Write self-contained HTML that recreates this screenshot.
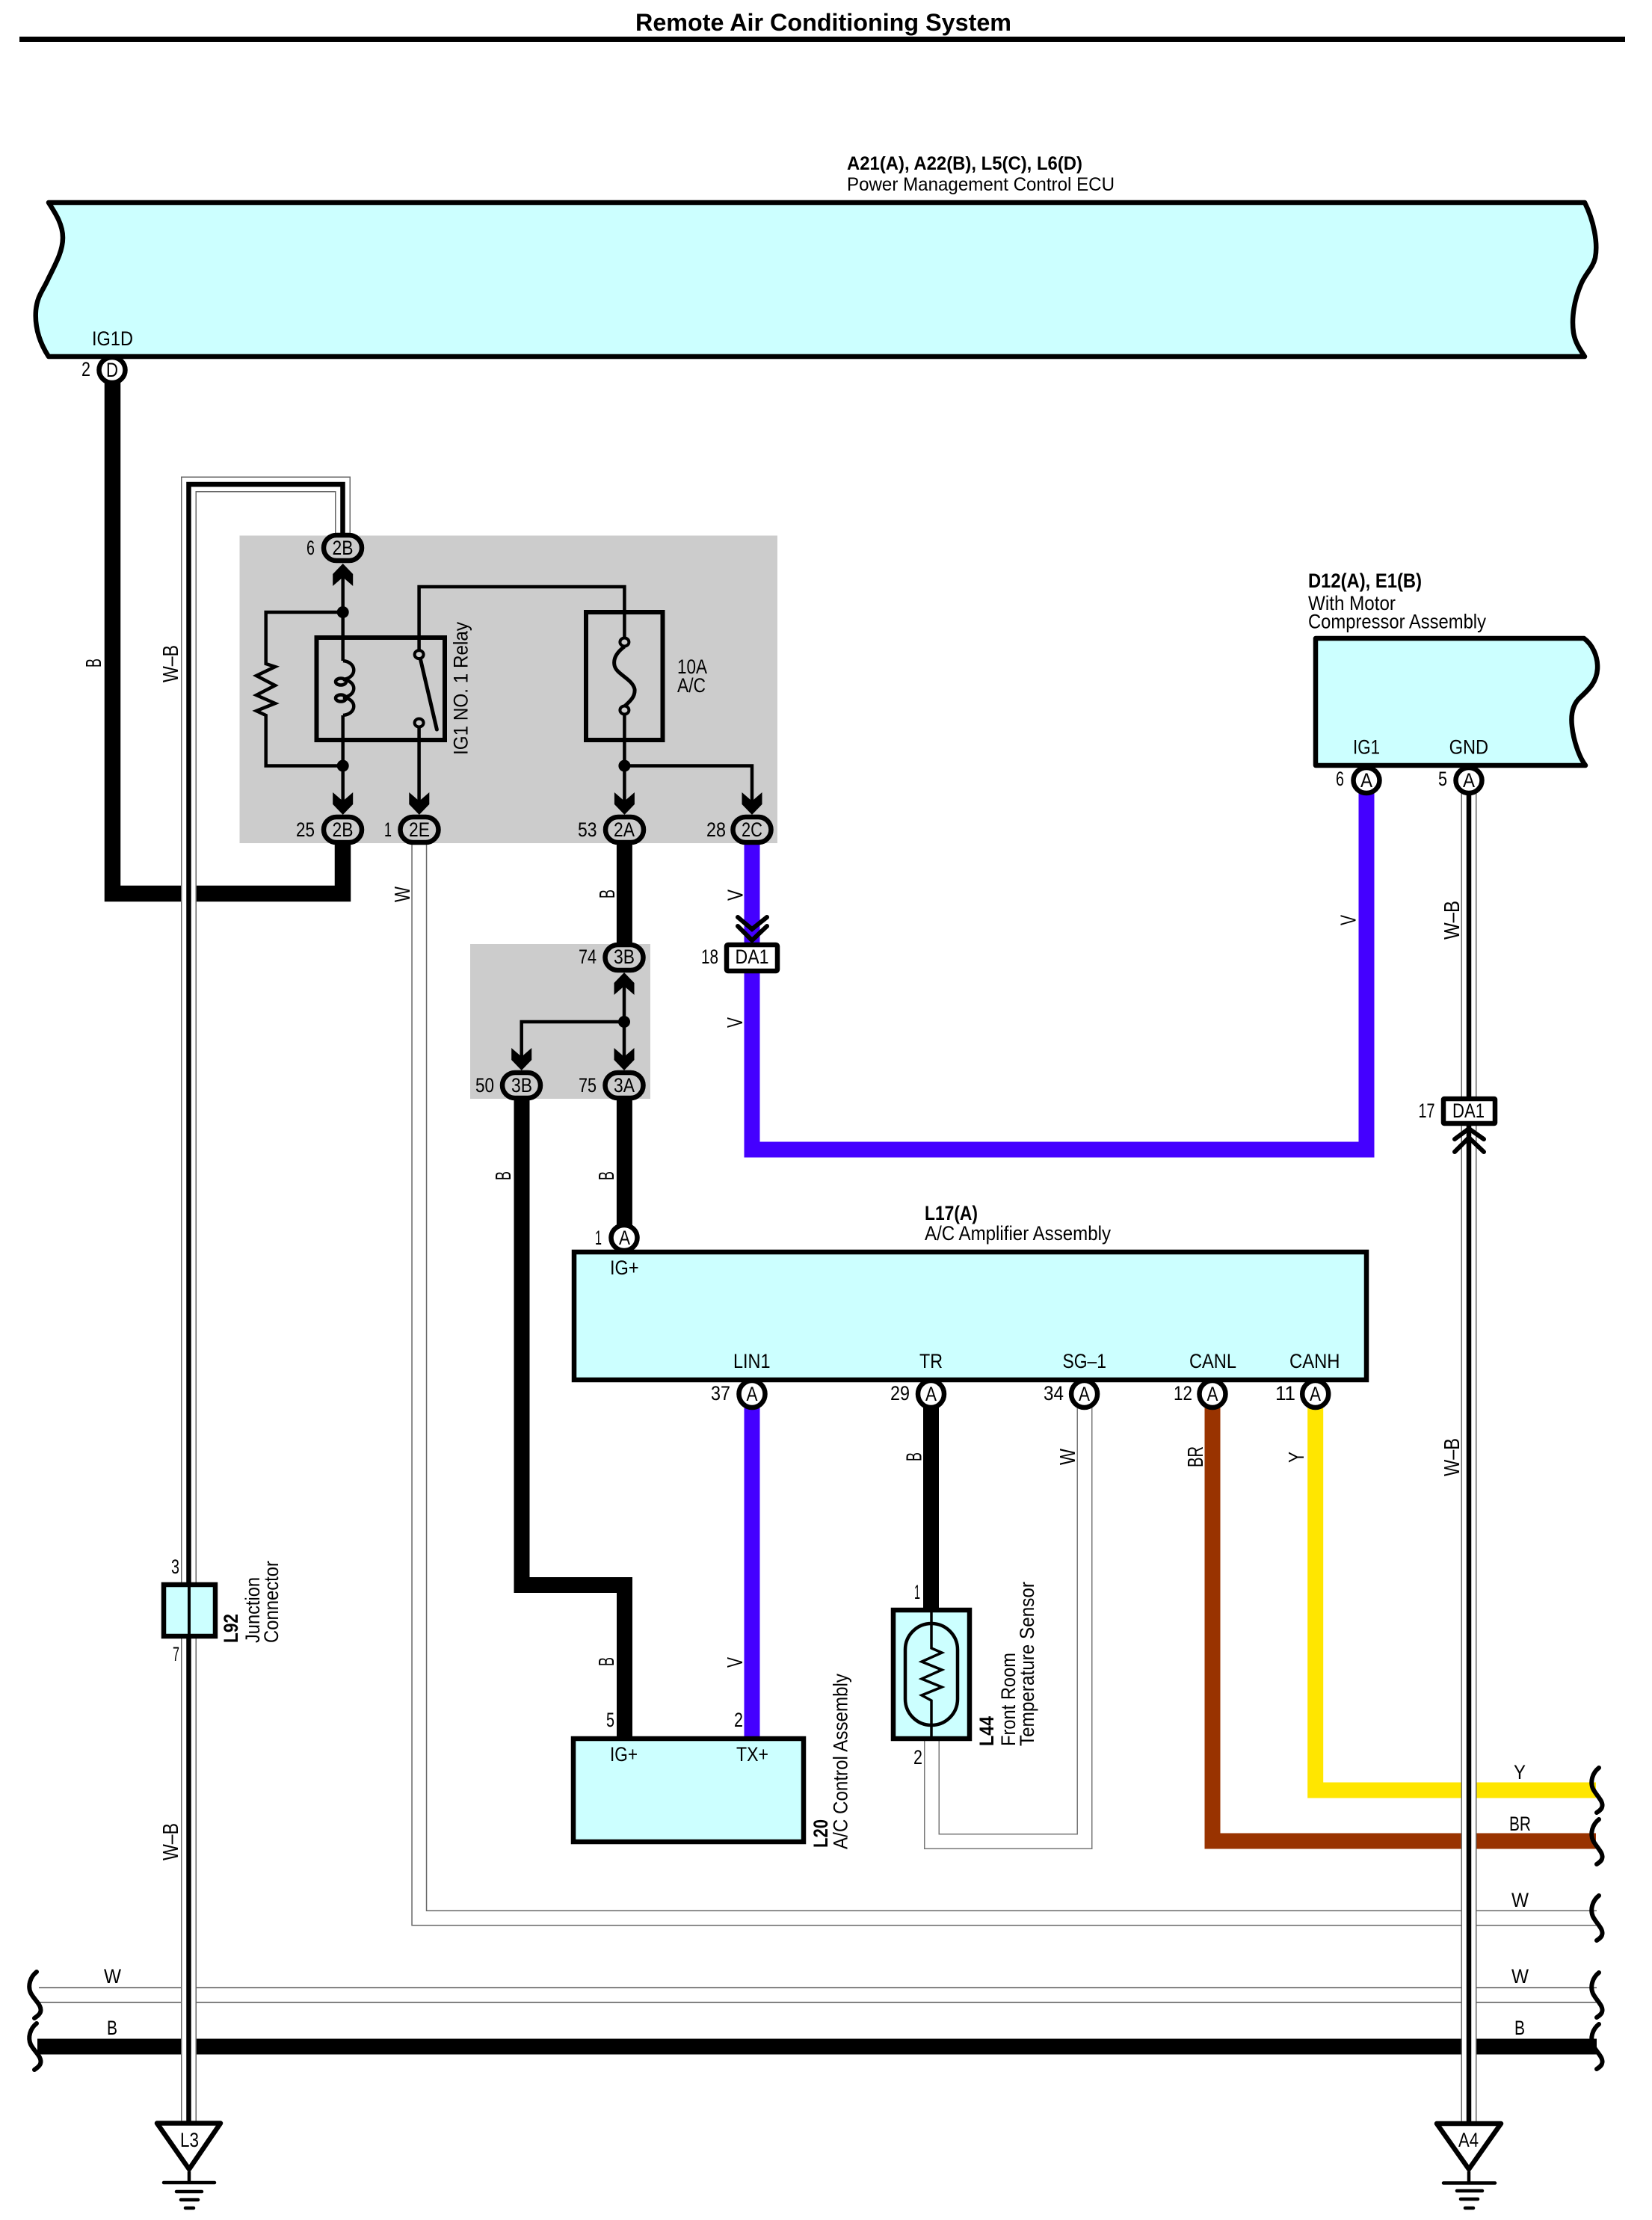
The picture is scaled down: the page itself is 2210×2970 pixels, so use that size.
<!DOCTYPE html>
<html><head><meta charset="utf-8"><style>
html,body{margin:0;padding:0;background:#fff}
svg{display:block}
text{font-family:"Liberation Sans",sans-serif;font-size:27px;fill:#000}
.b{font-weight:bold}
text.w{font-size:29px}
</style></head><body>
<svg width="2210" height="2970" viewBox="0 0 2210 2970" xmlns="http://www.w3.org/2000/svg">
<rect width="2210" height="2970" fill="#fff"/>
<text class="b" x="850" y="41" style="font-size:32px" textLength="503" lengthAdjust="spacingAndGlyphs">Remote Air Conditioning System</text>
<rect x="26" y="49" width="2148" height="7" fill="#000"/>

<text class="b" x="1133" y="227" style="font-size:25px" textLength="315" lengthAdjust="spacingAndGlyphs">A21(A), A22(B), L5(C), L6(D)</text>
<text x="1133" y="255" style="font-size:25px" textLength="358" lengthAdjust="spacingAndGlyphs">Power Management Control ECU</text>
<path d="M65 271 H2120 C2132 295 2138 325 2134 345 C2131 358 2122 365 2116 378 C2106 400 2102 425 2105 445 C2107 458 2114 468 2120 477 H65 C54 460 46 440 48 415 C50 395 58 388 65 372 C76 350 84 335 84 318 C84 300 74 285 65 271 Z" fill="#ccffff" stroke="#000" stroke-width="6.5" stroke-linejoin="round"/>
<text x="123" y="462" textLength="55" lengthAdjust="spacingAndGlyphs">IG1D</text>

<!-- gray boxes -->
<rect x="320.5" y="716.5" width="719.5" height="411.5" fill="#ccc"/>
<rect x="629" y="1263" width="241" height="207" fill="#ccc"/>

<!-- thick wires -->
<g fill="none" stroke-linejoin="miter">
<path d="M150.5 510 V1195.5 H458.5 V1125" stroke="#000" stroke-width="21.5"/>
<path d="M835.4 1125 V1270" stroke="#000" stroke-width="21"/>
<path d="M835.4 1465 V1640" stroke="#000" stroke-width="21"/>
<path d="M698 1465 V2120.5 H835.5 V2326" stroke="#000" stroke-width="21"/>
<path d="M1006 1125 V1265 M1006 1298 V1538 H1828 V1060" stroke="#4400ff" stroke-width="21"/>
<path d="M1006 1880 V2326" stroke="#4400ff" stroke-width="21"/>
<path d="M1245.5 1880 V2156" stroke="#000" stroke-width="21"/>
<path d="M1622 1880 V2463 H2135" stroke="#993300" stroke-width="21"/>
<path d="M1759.7 1880 V2395 H2135" stroke="#ffe600" stroke-width="21"/>
<!-- W wires -->
<path d="M560.8 1128 V2566 H2136" stroke="#666" stroke-width="21"/>
<path d="M560.8 1128 V2566 H2136" stroke="#fff" stroke-width="18"/>
<path d="M1246.5 2326 V2463.5 H1451 V1880" stroke="#777" stroke-width="21"/>
<path d="M1246.5 2326 V2463.5 H1451 V1880" stroke="#fff" stroke-width="18"/>
<path d="M52 2669 H2136" stroke="#555" stroke-width="21"/>
<path d="M52 2669 H2136" stroke="#fff" stroke-width="18"/>
<path d="M50 2738 H2136" stroke="#000" stroke-width="21"/>
<!-- W-B wires -->
<path d="M458.5 716 V648 H252.5 V2842" stroke="#666" stroke-width="21"/>
<path d="M458.5 716 V648 H252.5 V2842" stroke="#fff" stroke-width="18"/>
<path d="M458.5 716 V648 H252.5 V2842" stroke="#000" stroke-width="6.5"/>
<path d="M1965 1060 V2842" stroke="#666" stroke-width="21"/>
<path d="M1965 1060 V2842" stroke="#fff" stroke-width="18"/>
<path d="M1965 1060 V2842" stroke="#000" stroke-width="6.5"/>
</g>

<!-- relay thin wires -->
<g fill="none" stroke="#000" stroke-width="4.5">
<path d="M458.7 770 V884 M458.7 957 V1075"/>
<path d="M458.7 819 H355.7 V888 L368 892 L343 904 L368 917 L343 930 L368 941 L343 951 L355.7 957 V1024.5 H458.7"/>
<path d="M459 884 C478 886 478 907 459 909 C478 911 478 931 459 933 C478 935 478 955 459 957"/>
<ellipse cx="456" cy="912" rx="7" ry="4.5"/>
<ellipse cx="456" cy="934" rx="7" ry="4.5"/>
<path d="M560.6 869 V785 H835.4 V853"/>
<path d="M560.6 973 V1075"/>
<path d="M835.4 956 V1075 M835.4 1024.5 H1006 V1075"/>
<path d="M835 1320 V1425 M835 1367 H697.7 V1425"/>
</g>
<rect x="423.5" y="853" width="171.5" height="137" fill="none" stroke="#000" stroke-width="6"/>
<rect x="784" y="819" width="102.5" height="171" fill="none" stroke="#000" stroke-width="6"/>
<path d="M562 880 L584.4 976" stroke="#000" stroke-width="5" stroke-linecap="round" fill="none"/>
<path d="M835.4 865 C826 872 820 880 822 890 C824 902 846 908 849 922 C850 932 843 938 835.4 945" fill="none" stroke="#000" stroke-width="5"/>
<g fill="#ccc" stroke="#000" stroke-width="4">
<ellipse cx="560.6" cy="875.6" rx="6" ry="5.5"/>
<ellipse cx="560.6" cy="967" rx="6" ry="5.5"/>
<ellipse cx="835.4" cy="859" rx="6" ry="5.5"/>
<ellipse cx="835.4" cy="950" rx="6" ry="5.5"/>
</g>
<g fill="#000">
<ellipse cx="458.7" cy="819" rx="8" ry="8"/>
<ellipse cx="458.7" cy="1024.5" rx="8" ry="8"/>
<ellipse cx="835.4" cy="1024.5" rx="8" ry="8"/>
<circle cx="835" cy="1367" r="8"/>
<!-- arrows down -->
<path transform="translate(458.7 1060)" d="M0 30 L13.5 16 V0 L2 10 H-2 L-13.5 0 V16 Z"/>
<path transform="translate(560.8 1060)" d="M0 30 L13.5 16 V0 L2 10 H-2 L-13.5 0 V16 Z"/>
<path transform="translate(835.4 1060)" d="M0 30 L13.5 16 V0 L2 10 H-2 L-13.5 0 V16 Z"/>
<path transform="translate(1006 1060)" d="M0 30 L13.5 16 V0 L2 10 H-2 L-13.5 0 V16 Z"/>
<path transform="translate(697.7 1402)" d="M0 30 L13.5 16 V0 L2 10 H-2 L-13.5 0 V16 Z"/>
<path transform="translate(835 1402)" d="M0 30 L13.5 16 V0 L2 10 H-2 L-13.5 0 V16 Z"/>
<!-- arrows up -->
<path transform="translate(458.7 784) scale(1 -1)" d="M0 30 L13.5 16 V0 L2 10 H-2 L-13.5 0 V16 Z"/>
<path transform="translate(835 1331) scale(1 -1)" d="M0 30 L13.5 16 V0 L2 10 H-2 L-13.5 0 V16 Z"/>
</g>
<!-- chevrons -->
<g fill="none" stroke="#000" stroke-width="6" stroke-linecap="round">
<path d="M987 1227 L1006 1243 L1026 1227 M987 1239 L1006 1258 L1026 1239"/>
<path d="M1946 1524 L1965 1510 L1985 1524 M1946 1541 L1965 1522 L1985 1541"/>
</g>

<!-- stadium connectors -->
<g fill="#ccc" stroke="#000" stroke-width="6.5">
<rect x="433" y="716" width="51" height="34" rx="17"/>
<rect x="433" y="1093" width="51" height="34" rx="17"/>
<rect x="535.5" y="1093" width="51" height="34" rx="17"/>
<rect x="810" y="1093" width="51" height="34" rx="17"/>
<rect x="980.5" y="1093" width="51" height="34" rx="17"/>
<rect x="809.5" y="1264" width="51" height="34" rx="17"/>
<rect x="809.5" y="1435" width="51" height="34" rx="17"/>
<rect x="672" y="1435" width="51" height="34" rx="17"/>
</g>
<!-- round connectors -->
<g fill="#fff" stroke="#000" stroke-width="6.5">
<ellipse cx="150" cy="495" rx="17.5" ry="17"/>
<ellipse cx="835" cy="1656" rx="17.5" ry="17"/>
<ellipse cx="1828" cy="1044" rx="17.5" ry="17"/>
<ellipse cx="1965" cy="1044" rx="17.5" ry="17"/>
<ellipse cx="1006" cy="1865" rx="17.5" ry="18"/>
<ellipse cx="1245.5" cy="1865" rx="17.5" ry="18"/>
<ellipse cx="1450.6" cy="1865" rx="17.5" ry="18"/>
<ellipse cx="1622" cy="1865" rx="17.5" ry="18"/>
<ellipse cx="1759.7" cy="1865" rx="17.5" ry="18"/>
</g>
<!-- DA1 -->
<rect x="972" y="1264" width="68" height="35" fill="#fff" stroke="#000" stroke-width="6.5" rx="2"/>
<rect x="1931" y="1470" width="69" height="33" fill="#fff" stroke="#000" stroke-width="6.5" rx="1"/>

<!-- component boxes -->
<rect x="768" y="1675" width="1060" height="171" fill="#ccffff" stroke="#000" stroke-width="6.5"/>
<rect x="767" y="2326" width="308" height="138" fill="#ccffff" stroke="#000" stroke-width="6.5"/>
<rect x="1195" y="2154" width="102" height="172" fill="#ccffff" stroke="#000" stroke-width="6.5"/>
<path d="M1246 2154 V2205 L1260 2211 L1233 2223 L1260 2234 L1233 2246 L1260 2257 L1233 2268 L1246 2275 V2326" fill="none" stroke="#000" stroke-width="3.5"/>
<rect x="1211" y="2172" width="70" height="136" rx="35" fill="none" stroke="#000" stroke-width="4.5"/>
<path d="M1760 854 H2119 C2130 862 2138 878 2137 895 C2136 912 2126 922 2114 933 C2104 942 2101 955 2103 972 C2105 990 2112 1012 2121 1024 H1760 Z" fill="#ccffff" stroke="#000" stroke-width="6.5" stroke-linejoin="round"/>
<rect x="219" y="2120" width="69" height="69" fill="#ccffff" stroke="#000" stroke-width="6.5"/>
<rect x="251" y="2117" width="4" height="75" fill="#000"/>

<!-- grounds -->
<path d="M210 2840.5 H295 L253 2902 Z" fill="#fff" stroke="#000" stroke-width="6.5" stroke-linejoin="round"/>
<path d="M253 2905 V2920" stroke="#000" stroke-width="4.5"/>
<g stroke="#000" stroke-width="4.5" stroke-linecap="round">
<path d="M219 2920 H287 M236 2932 H270 M242 2943 H265 M248 2954 H259"/>
</g>
<path d="M1922 2841 H2008 L1965 2902 Z" fill="#fff" stroke="#000" stroke-width="6.5" stroke-linejoin="round"/>
<path d="M1965 2905 V2920" stroke="#000" stroke-width="4.5"/>
<g stroke="#000" stroke-width="4.5" stroke-linecap="round">
<path d="M1931 2920.5 H2000 M1949 2931 H1983 M1954 2942 H1977 M1960 2954 H1971"/>
</g>

<!-- squiggles -->
<g fill="none" stroke="#000" stroke-width="6" stroke-linecap="round">
<path d="M2139 2365 C2130 2372 2127 2384 2131 2393 C2136 2403 2146 2410 2143 2418 C2142 2421 2139 2423 2136 2425"/>
<path d="M2139 2434 C2130 2441 2127 2453 2131 2462 C2136 2472 2146 2479 2143 2487 C2142 2490 2139 2492 2136 2494"/>
<path d="M2139 2536 C2130 2543 2127 2555 2131 2564 C2136 2574 2146 2581 2143 2589 C2142 2592 2139 2594 2136 2596"/>
<path d="M2139 2639 C2130 2646 2127 2658 2131 2667 C2136 2677 2146 2684 2143 2692 C2142 2695 2139 2697 2136 2699"/>
<path d="M2139 2708 C2130 2715 2127 2727 2131 2736 C2136 2746 2146 2753 2143 2761 C2142 2764 2139 2766 2136 2768"/>
<path d="M49 2638 C40 2645 37 2657 41 2666 C46 2676 57 2683 54 2692 C53 2695 49 2698 46 2700"/>
<path d="M49 2707 C40 2714 37 2726 41 2735 C46 2745 57 2752 54 2761 C53 2764 49 2767 46 2769"/>
</g>

<!-- connector texts -->
<g>
<text x="142" y="504" textLength="16" lengthAdjust="spacingAndGlyphs">D</text>
<text x="109" y="503" textLength="12" lengthAdjust="spacingAndGlyphs">2</text>
<text x="410" y="742" textLength="11" lengthAdjust="spacingAndGlyphs">6</text>
<text x="444.5" y="742" textLength="28" lengthAdjust="spacingAndGlyphs">2B</text>
<text x="396" y="1119" textLength="25" lengthAdjust="spacingAndGlyphs">25</text>
<text x="444.5" y="1119" textLength="28" lengthAdjust="spacingAndGlyphs">2B</text>
<text x="514" y="1119" textLength="10" lengthAdjust="spacingAndGlyphs">1</text>
<text x="547" y="1119" textLength="28" lengthAdjust="spacingAndGlyphs">2E</text>
<text x="773" y="1119" textLength="25.5" lengthAdjust="spacingAndGlyphs">53</text>
<text x="821" y="1119" textLength="28" lengthAdjust="spacingAndGlyphs">2A</text>
<text x="945" y="1119" textLength="26" lengthAdjust="spacingAndGlyphs">28</text>
<text x="992" y="1119" textLength="28" lengthAdjust="spacingAndGlyphs">2C</text>
<text x="774" y="1289" textLength="24" lengthAdjust="spacingAndGlyphs">74</text>
<text x="821" y="1289" textLength="28" lengthAdjust="spacingAndGlyphs">3B</text>
<text x="774" y="1461" textLength="24" lengthAdjust="spacingAndGlyphs">75</text>
<text x="821" y="1461" textLength="28" lengthAdjust="spacingAndGlyphs">3A</text>
<text x="636" y="1461" textLength="25" lengthAdjust="spacingAndGlyphs">50</text>
<text x="684" y="1461" textLength="28" lengthAdjust="spacingAndGlyphs">3B</text>
<text x="938" y="1289" textLength="23" lengthAdjust="spacingAndGlyphs">18</text>
<text x="983.5" y="1289" textLength="45" lengthAdjust="spacingAndGlyphs">DA1</text>
<text x="1897.5" y="1495" textLength="22" lengthAdjust="spacingAndGlyphs">17</text>
<text x="1943" y="1495" textLength="43" lengthAdjust="spacingAndGlyphs">DA1</text>
<text x="828" y="1665" textLength="15" lengthAdjust="spacingAndGlyphs">A</text>
<text x="796" y="1665" textLength="9" lengthAdjust="spacingAndGlyphs">1</text>
<text x="1787" y="1051" textLength="11" lengthAdjust="spacingAndGlyphs">6</text>
<text x="1820" y="1053" textLength="16" lengthAdjust="spacingAndGlyphs">A</text>
<text x="1924" y="1051" textLength="12" lengthAdjust="spacingAndGlyphs">5</text>
<text x="1957" y="1053" textLength="16" lengthAdjust="spacingAndGlyphs">A</text>
<text x="951" y="1873" textLength="26" lengthAdjust="spacingAndGlyphs">37</text>
<text x="998.5" y="1874" textLength="15" lengthAdjust="spacingAndGlyphs">A</text>
<text x="1191" y="1873" textLength="26" lengthAdjust="spacingAndGlyphs">29</text>
<text x="1238" y="1874" textLength="15" lengthAdjust="spacingAndGlyphs">A</text>
<text x="1396" y="1873" textLength="27" lengthAdjust="spacingAndGlyphs">34</text>
<text x="1443" y="1874" textLength="15" lengthAdjust="spacingAndGlyphs">A</text>
<text x="1570" y="1873" textLength="25" lengthAdjust="spacingAndGlyphs">12</text>
<text x="1614.5" y="1874" textLength="15" lengthAdjust="spacingAndGlyphs">A</text>
<text x="1706" y="1873" textLength="27" lengthAdjust="spacingAndGlyphs">11</text>
<text x="1752" y="1874" textLength="15" lengthAdjust="spacingAndGlyphs">A</text>
<text x="811" y="2310" textLength="11" lengthAdjust="spacingAndGlyphs">5</text>
<text x="982" y="2310" textLength="12" lengthAdjust="spacingAndGlyphs">2</text>
<text x="1223" y="2139" textLength="8" lengthAdjust="spacingAndGlyphs">1</text>
<text x="1222" y="2360" textLength="12" lengthAdjust="spacingAndGlyphs">2</text>
<text x="229" y="2105" textLength="11" lengthAdjust="spacingAndGlyphs">3</text>
<text x="231" y="2222" textLength="9" lengthAdjust="spacingAndGlyphs">7</text>
<text x="241" y="2872" textLength="25" lengthAdjust="spacingAndGlyphs">L3</text>
<text x="1951" y="2872" textLength="27" lengthAdjust="spacingAndGlyphs">A4</text>
</g>

<!-- component text -->
<text x="906" y="901" textLength="40" lengthAdjust="spacingAndGlyphs">10A</text>
<text x="906" y="926" textLength="38" lengthAdjust="spacingAndGlyphs">A/C</text>
<text class="b" x="1750" y="786" textLength="152" lengthAdjust="spacingAndGlyphs">D12(A), E1(B)</text>
<text x="1750" y="816" textLength="117" lengthAdjust="spacingAndGlyphs">With Motor</text>
<text x="1750" y="840.5" textLength="238" lengthAdjust="spacingAndGlyphs">Compressor Assembly</text>
<text x="1810" y="1008.5" textLength="36" lengthAdjust="spacingAndGlyphs">IG1</text>
<text x="1938.6" y="1008.5" textLength="52.5" lengthAdjust="spacingAndGlyphs">GND</text>
<text class="b" x="1237" y="1632" textLength="71" lengthAdjust="spacingAndGlyphs">L17(A)</text>
<text x="1237" y="1659" textLength="249" lengthAdjust="spacingAndGlyphs">A/C Amplifier Assembly</text>
<text x="816" y="1705" textLength="38.6" lengthAdjust="spacingAndGlyphs">IG+</text>
<text x="981" y="1830" textLength="49.5" lengthAdjust="spacingAndGlyphs">LIN1</text>
<text x="1230" y="1830" textLength="31" lengthAdjust="spacingAndGlyphs">TR</text>
<text x="1421.5" y="1830" textLength="58.5" lengthAdjust="spacingAndGlyphs">SG–1</text>
<text x="1591" y="1830" textLength="63" lengthAdjust="spacingAndGlyphs">CANL</text>
<text x="1725" y="1830" textLength="67.5" lengthAdjust="spacingAndGlyphs">CANH</text>
<text x="816" y="2356" textLength="37" lengthAdjust="spacingAndGlyphs">IG+</text>
<text x="985" y="2356" textLength="43" lengthAdjust="spacingAndGlyphs">TX+</text>

<!-- horizontal wire labels -->
<text x="2025" y="2380" textLength="16" lengthAdjust="spacingAndGlyphs">Y</text>
<text x="2019" y="2449" textLength="29" lengthAdjust="spacingAndGlyphs">BR</text>
<text x="2022" y="2551" textLength="23" lengthAdjust="spacingAndGlyphs">W</text>
<text x="2022" y="2653" textLength="23" lengthAdjust="spacingAndGlyphs">W</text>
<text x="2026" y="2722" textLength="14" lengthAdjust="spacingAndGlyphs">B</text>
<text x="139" y="2653" textLength="23" lengthAdjust="spacingAndGlyphs">W</text>
<text x="143" y="2722" textLength="14" lengthAdjust="spacingAndGlyphs">B</text>

<!-- rotated labels -->
<g>
<text transform="translate(625.5 1010) rotate(-90)" textLength="178" lengthAdjust="spacingAndGlyphs">IG1 NO. 1 Relay</text>
<text class="w" transform="translate(135 893) rotate(-90)" textLength="12" lengthAdjust="spacingAndGlyphs">B</text>
<text class="w" transform="translate(238 913) rotate(-90)" textLength="50" lengthAdjust="spacingAndGlyphs">W–B</text>
<text class="w" transform="translate(238 2489) rotate(-90)" textLength="50" lengthAdjust="spacingAndGlyphs">W–B</text>
<text class="w" transform="translate(548 1207) rotate(-90)" textLength="21" lengthAdjust="spacingAndGlyphs">W</text>
<text class="w" transform="translate(822 1202) rotate(-90)" textLength="12" lengthAdjust="spacingAndGlyphs">B</text>
<text class="w" transform="translate(993.6 1205) rotate(-90)" textLength="15" lengthAdjust="spacingAndGlyphs">V</text>
<text class="w" transform="translate(993 1375) rotate(-90)" textLength="14" lengthAdjust="spacingAndGlyphs">V</text>
<text class="w" transform="translate(683 1579) rotate(-90)" textLength="12" lengthAdjust="spacingAndGlyphs">B</text>
<text class="w" transform="translate(821 1579) rotate(-90)" textLength="12" lengthAdjust="spacingAndGlyphs">B</text>
<text class="w" transform="translate(1813.6 1238) rotate(-90)" textLength="14" lengthAdjust="spacingAndGlyphs">V</text>
<text class="w" transform="translate(1952 1257) rotate(-90)" textLength="52" lengthAdjust="spacingAndGlyphs">W–B</text>
<text class="w" transform="translate(1952 1975) rotate(-90)" textLength="51" lengthAdjust="spacingAndGlyphs">W–B</text>
<text class="w" transform="translate(1232.5 1955) rotate(-90)" textLength="12" lengthAdjust="spacingAndGlyphs">B</text>
<text class="w" transform="translate(1438 1960) rotate(-90)" textLength="22" lengthAdjust="spacingAndGlyphs">W</text>
<text class="w" transform="translate(1609 1963) rotate(-90)" textLength="28" lengthAdjust="spacingAndGlyphs">BR</text>
<text class="w" transform="translate(1744 1957) rotate(-90)" textLength="15" lengthAdjust="spacingAndGlyphs">Y</text>
<text class="w" transform="translate(821 2229) rotate(-90)" textLength="12" lengthAdjust="spacingAndGlyphs">B</text>
<text class="w" transform="translate(993 2231) rotate(-90)" textLength="14" lengthAdjust="spacingAndGlyphs">V</text>
<text class="b" transform="translate(1107 2472) rotate(-90)" textLength="38" lengthAdjust="spacingAndGlyphs">L20</text>
<text transform="translate(1133.5 2474) rotate(-90)" textLength="235" lengthAdjust="spacingAndGlyphs">A/C Control Assembly</text>
<text class="b" transform="translate(1329 2336) rotate(-90)" textLength="40" lengthAdjust="spacingAndGlyphs">L44</text>
<text transform="translate(1358 2336) rotate(-90)" textLength="125" lengthAdjust="spacingAndGlyphs">Front Room</text>
<text transform="translate(1383 2336) rotate(-90)" textLength="220" lengthAdjust="spacingAndGlyphs">Temperature Sensor</text>
<text class="b" transform="translate(318 2198) rotate(-90)" textLength="39" lengthAdjust="spacingAndGlyphs">L92</text>
<text transform="translate(347 2198) rotate(-90)" textLength="88" lengthAdjust="spacingAndGlyphs">Junction</text>
<text transform="translate(372 2198) rotate(-90)" textLength="110" lengthAdjust="spacingAndGlyphs">Connector</text>
</g>
</svg>
</body></html>
